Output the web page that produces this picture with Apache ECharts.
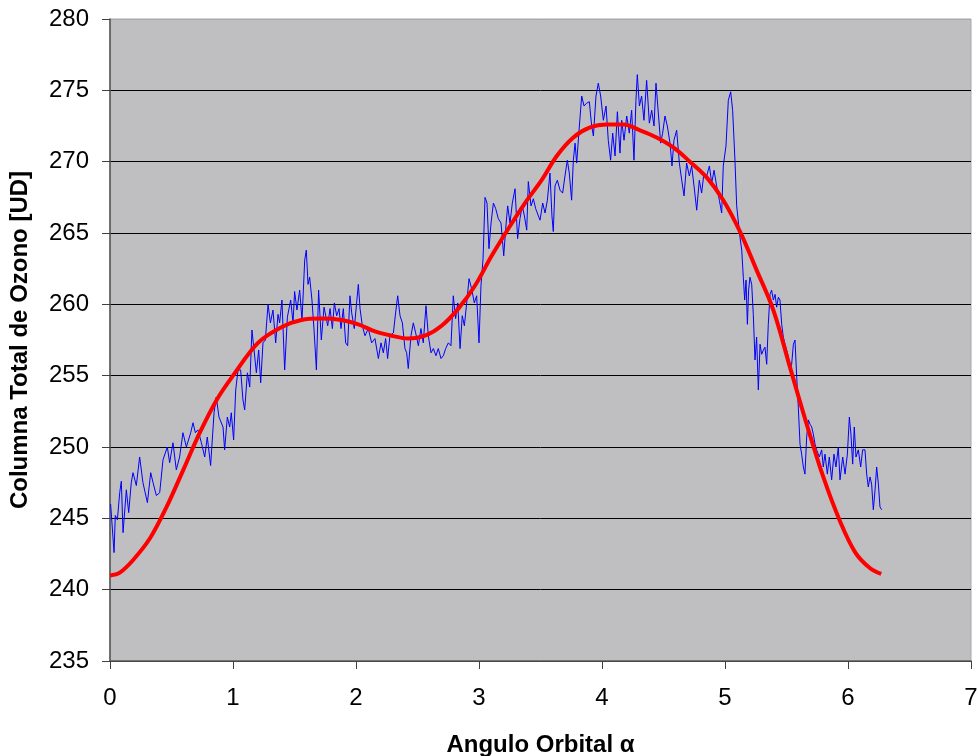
<!DOCTYPE html>
<html>
<head>
<meta charset="utf-8">
<script src="https://cdn.jsdelivr.net/npm/echarts@6/dist/echarts.min.js"></script>
<style>
  html, body { margin: 0; padding: 0; background: #ffffff; }
  #chart { width: 978px; height: 756px; }
</style>
</head>
<body>
<div id="chart"></div>
<script>
// Observed total ozone column along the orbit (orbital angle in radians)
const obsAlpha = [
  0.005, 0.011, 0.033, 0.043, 0.060, 0.079, 0.092, 0.106, 0.133, 0.152, 0.173, 0.187, 0.214, 0.241, 0.268,
  0.304, 0.331, 0.350, 0.377, 0.404, 0.431, 0.466, 0.485, 0.512, 0.539, 0.566, 0.593, 0.621, 0.656, 0.675,
  0.694, 0.715, 0.743, 0.770, 0.791, 0.818, 0.846, 0.864, 0.886, 0.919, 0.932, 0.954, 0.973, 0.986, 1.005,
  1.022, 1.041, 1.062, 1.081, 1.095, 1.117, 1.136, 1.154, 1.171, 1.190, 1.209, 1.225, 1.244, 1.263, 1.285,
  1.304, 1.325, 1.347, 1.366, 1.379, 1.398, 1.420, 1.442, 1.469, 1.488, 1.501, 1.520, 1.542, 1.561, 1.583,
  1.596, 1.610, 1.623, 1.642, 1.659, 1.678, 1.696, 1.718, 1.740,
  1.770, 1.789, 1.808, 1.824, 1.843, 1.862, 1.878, 1.897, 1.916, 1.932, 1.951, 1.965, 1.986, 2.005, 2.019,
  2.033, 2.051, 2.073, 2.100, 2.127, 2.154, 2.182, 2.203, 2.222, 2.241, 2.257, 2.276, 2.304, 2.322, 2.339,
  2.358, 2.377, 2.398, 2.412, 2.425, 2.447, 2.466, 2.485, 2.507, 2.528, 2.547, 2.569, 2.588, 2.610, 2.629,
  2.650, 2.669, 2.691, 2.710, 2.729, 2.751, 2.772, 2.791, 2.810, 2.827, 2.846, 2.864, 2.881, 2.900, 2.919,
  2.940, 2.962, 2.981, 3.000, 3.016, 3.033, 3.049, 3.065, 3.081, 3.098, 3.117, 3.136, 3.157, 3.179, 3.201,
  3.217, 3.233, 3.252, 3.271, 3.293, 3.314, 3.333, 3.352, 3.369, 3.388, 3.401, 3.423, 3.442, 3.461,
  3.496, 3.518, 3.537, 3.556, 3.577, 3.593, 3.604, 3.618, 3.637, 3.659, 3.680, 3.699, 3.718, 3.734, 3.753,
  3.767, 3.781, 3.794, 3.816, 3.835, 3.854, 3.875, 3.897, 3.916, 3.930, 3.951, 3.970, 3.989, 4.011, 4.033,
  4.051, 4.070, 4.087, 4.106, 4.125, 4.146, 4.160, 4.179, 4.201, 4.222, 4.241, 4.260, 4.276, 4.287, 4.304,
  4.322, 4.341, 4.363, 4.385, 4.404, 4.423, 4.439, 4.458, 4.477, 4.493, 4.512, 4.531, 4.553, 4.569, 4.585,
  4.607, 4.629, 4.648, 4.667, 4.688, 4.710, 4.729, 4.748, 4.770, 4.791, 4.810, 4.829, 4.851, 4.873, 4.892,
  4.911, 4.932, 4.954, 4.973, 4.986, 5.008, 5.027, 5.046, 5.062, 5.081, 5.095,
  5.122, 5.136, 5.149, 5.160, 5.171, 5.182, 5.192, 5.203, 5.217, 5.230, 5.244, 5.257, 5.271, 5.285, 5.298,
  5.312, 5.325, 5.339, 5.352, 5.366, 5.379, 5.393, 5.407, 5.420, 5.434, 5.447, 5.461, 5.474, 5.488, 5.501,
  5.515, 5.528, 5.542, 5.556, 5.569, 5.583, 5.596, 5.610, 5.623, 5.637, 5.650, 5.664, 5.678, 5.691, 5.705,
  5.718, 5.732, 5.745, 5.767, 5.786, 5.799, 5.813, 5.832, 5.848, 5.867, 5.886, 5.902, 5.921, 5.935, 5.957,
  5.976, 5.995, 6.011, 6.024, 6.038, 6.051, 6.065, 6.084, 6.103, 6.119, 6.138, 6.152, 6.165, 6.179, 6.192,
  6.206, 6.220, 6.233, 6.247, 6.260, 6.274
];
const obsOzone = [
  246.0, 246.1, 242.6, 245.2, 244.9, 246.8, 247.6, 244.0, 247.0, 245.4, 247.5, 248.2, 247.3, 249.3, 247.5,
  246.1, 248.2, 247.5, 246.6, 246.8, 249.1, 250.0, 248.9, 250.3, 248.4, 249.3, 251.0, 250.0, 251.0, 251.7,
  251.0, 251.2, 250.3, 249.3, 250.7, 248.7, 252.4, 253.5, 252.1, 251.4, 249.8, 252.1, 251.4, 252.4, 250.5,
  254.0, 255.4, 255.4, 253.3, 252.6, 255.2, 254.2, 258.2, 256.8, 255.2, 256.8, 254.5, 257.3, 257.5, 260.0,
  258.7, 259.6, 257.3, 259.3, 258.7, 260.3, 255.4, 259.1, 260.3, 258.7, 260.9, 259.6, 261.0, 258.9, 263.1,
  263.8, 261.4, 261.9, 260.3, 258.2, 255.4, 261.0, 257.5, 259.8,
  258.5, 259.7, 258.3, 260.1, 259.2, 259.7, 258.3, 259.7, 257.3, 257.1, 260.6, 259.4, 258.3, 260.1, 261.4,
  259.7, 258.5, 257.8, 258.3, 257.3, 257.6, 256.2, 257.3, 256.6, 257.6, 256.2, 257.8, 258.0, 259.4, 260.6,
  259.2, 258.7, 256.9, 256.6, 255.5, 257.8, 258.7, 258.0, 257.1, 258.3, 257.3, 259.9, 257.8, 256.6, 256.9,
  256.4, 256.9, 256.2, 256.4, 256.9, 257.3, 257.1, 260.6, 259.0, 260.1, 256.9, 259.2, 258.5, 260.1, 261.8,
  261.1, 260.1, 260.6, 257.3, 261.3, 263.2, 267.5, 267.1, 263.9, 265.7, 267.1, 266.7, 266.0, 265.7, 263.4,
  265.3, 266.9, 265.7, 267.1, 268.1, 264.6, 266.0, 266.9, 266.2, 265.2, 268.6, 266.9, 267.4, 266.7,
  265.9, 267.1, 266.4, 267.3, 269.2, 266.2, 265.1, 268.3, 268.7, 268.0, 267.8, 269.0, 270.1, 269.2, 267.3,
  270.1, 271.3, 269.9, 272.5, 274.6, 273.9, 274.1, 274.2, 272.5, 271.8, 274.6, 275.5, 274.6, 272.9, 273.9,
  271.5, 270.1, 272.0, 270.4, 273.5, 270.6, 272.9, 271.5, 273.2, 272.0, 273.6, 270.1, 274.3, 276.1, 273.9,
  274.6, 272.9, 275.7, 272.7, 273.6, 272.5, 275.5, 273.4, 271.3, 272.0, 273.2, 272.5, 271.3, 269.7, 271.5,
  272.2, 269.9, 268.7, 267.6, 269.9, 269.0, 269.7, 268.3, 266.6, 268.7, 267.8, 269.2, 269.0, 269.7, 268.5,
  269.4, 268.3, 267.3, 266.4, 269.7, 271.1, 274.3, 274.9, 273.6, 270.1, 266.9,
  264.7, 263.8, 261.9, 260.3, 261.7, 258.6, 261.0, 261.9, 261.4, 259.3, 256.1, 257.7, 254.0, 257.2, 256.5,
  256.8, 257.0, 255.8, 258.6, 260.7, 261.0, 260.3, 260.7, 259.8, 260.5, 260.3, 258.6, 257.7, 257.2, 256.8,
  256.3, 255.4, 255.8, 257.2, 257.5, 254.9, 252.8, 250.2, 249.5, 248.6, 248.1, 250.7, 251.9, 251.6, 251.4,
  250.9, 250.2, 249.8, 249.3, 249.8, 248.6, 249.5, 248.1, 249.3, 247.7, 249.5, 248.6, 250.0, 247.7, 249.3,
  248.1, 249.5, 252.1, 250.9, 248.8, 251.4, 249.3, 249.8, 248.6, 249.8, 249.8, 248.1, 247.2, 247.9, 247.4,
  245.6, 247.0, 248.6, 247.4, 245.8, 245.6
];

// Smooth fitted curve through the observations
const fitAlpha = [
  0, 0.08, 0.19, 0.325, 0.46, 0.596, 0.73, 0.867, 1.0, 1.203, 1.393, 1.556, 1.718, 1.883, 2.019, 2.154,
  2.290, 2.425, 2.561, 2.696, 2.832, 2.967, 3.103, 3.238, 3.374, 3.509, 3.632, 3.767, 3.903, 4.038, 4.173,
  4.309, 4.444, 4.580, 4.715, 4.851, 4.986, 5.122, 5.257, 5.393, 5.528, 5.664, 5.799, 5.935, 6.06, 6.18, 6.27
];
const fitOzone = [
  241.0, 241.2, 242.1, 243.6, 245.8, 248.4, 251.0, 253.3, 255.0, 257.3, 258.4, 258.9, 259.0, 258.9, 258.6, 258.1,
  257.8, 257.6, 257.8, 258.5, 259.7, 261.3, 263.4, 265.3, 267.1, 268.7, 270.4, 271.7, 272.4, 272.6, 272.6,
  272.2, 271.7, 271.0, 270.0, 268.9, 267.3, 265.1, 262.4, 259.6, 255.6, 251.6, 247.9, 244.8, 242.6, 241.5, 241.1
];

const xTitle = 'Angulo Orbital α';
const yTitle = 'Columna Total de Ozono [UD]';

const chart = echarts.init(document.getElementById('chart'), null, { renderer: 'canvas' });

const axisFont = { fontFamily: 'Liberation Sans, Arial, sans-serif', fontSize: 24, color: '#000000' };
const titleFont = { fontFamily: 'Liberation Sans, Arial, sans-serif', fontSize: 24, fontWeight: 'bold', color: '#000000' };

// Gridlines are black; the topmost one doubles as the plot frame and stays light
const gridColors = ['#000000', '#000000', '#000000', '#000000', '#000000',
                    '#000000', '#000000', '#000000', '#000000', '#a8a8a8'];

chart.setOption({
  animation: false,
  backgroundColor: '#ffffff',
  grid: {
    left: 110, top: 19, right: 7, bottom: 95,
    outerBoundsMode: 'none',
    containLabel: false,
    show: true,
    backgroundColor: '#bfbec1',
    borderColor: '#a8a8a8',
    borderWidth: 1
  },
  xAxis: {
    type: 'value',
    min: 0, max: 7, interval: 1,
    name: xTitle,
    nameLocation: 'middle',
    nameGap: 72,
    nameTextStyle: titleFont,
    axisLine: { show: true, onZero: false, lineStyle: { color: '#606060', width: 1.5 } },
    axisTick: { show: true, length: 8, lineStyle: { color: '#404040', width: 1 } },
    axisLabel: Object.assign({ margin: 25 }, axisFont),
    splitLine: { show: false }
  },
  yAxis: {
    type: 'value',
    min: 235, max: 280, interval: 5,
    name: yTitle,
    nameLocation: 'middle',
    nameGap: 78,
    nameRotate: 90,
    nameTextStyle: titleFont,
    axisLine: { show: true, onZero: false, lineStyle: { color: '#505050', width: 1.5 } },
    axisTick: { show: true, length: 8, lineStyle: { color: '#404040', width: 1 } },
    axisLabel: Object.assign({ margin: 21 }, axisFont),
    splitLine: { show: true, lineStyle: { color: gridColors, width: 1 } }
  },
  series: [
    {
      name: 'obs',
      type: 'line',
      data: obsAlpha.map((a, i) => [a, obsOzone[i]]),
      showSymbol: false,
      symbol: 'none',
      lineStyle: { color: '#0000ff', width: 1 },
      z: 2
    },
    {
      name: 'fit',
      type: 'line',
      data: fitAlpha.map((a, i) => [a, fitOzone[i]]),
      showSymbol: false,
      symbol: 'none',
      smooth: 0.35,
      lineStyle: { color: '#ff0000', width: 4 },
      z: 3
    }
  ]
});
</script>
</body>
</html>
